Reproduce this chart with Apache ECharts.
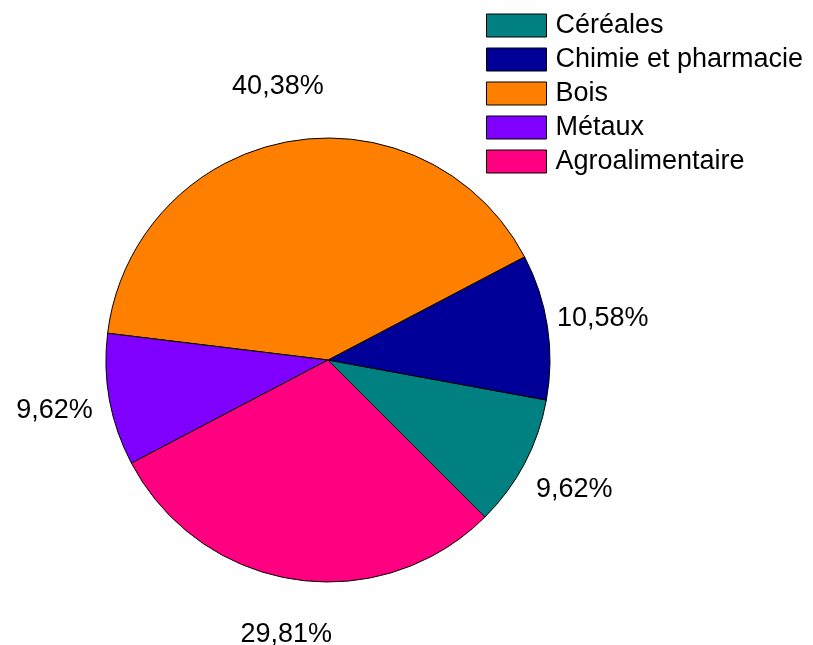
<!DOCTYPE html>
<html>
<head>
<meta charset="utf-8">
<script src="https://cdn.jsdelivr.net/npm/echarts@6/dist/echarts.min.js"></script>
<style>
  html, body { margin: 0; padding: 0; background: #fff; }
  #chart { width: 813px; height: 645px; }
</style>
</head>
<body>
<div id="chart"></div>
<script>
// données
const categories = ['Céréales', 'Chimie et pharmacie', 'Bois', 'Métaux', 'Agroalimentaire'];
const values = [10, 11, 42, 10, 31];
const colors = ['#008080', '#000099', '#FF8000', '#8000FF', '#FF0080'];

const total = values.reduce((a, b) => a + b, 0);

const pieData = categories.map((name, i) => ({
  name,
  value: values[i],
  itemStyle: { color: colors[i] }
}));

const chart = echarts.init(document.getElementById('chart'));

// pourcentage à 2 décimales, virgule française
const fmtPercent = p => (p.value / total * 100).toFixed(2).replace('.', ',') + '%';

chart.setOption({
  animation: false,
  legend: {
    orient: 'vertical',
    left: 486,
    top: 12,
    padding: 0,
    itemWidth: 60,
    itemHeight: 23,
    itemGap: 7,
    icon: 'rect',
    itemStyle: { borderColor: '#000', borderWidth: 1 },
    textStyle: {
      fontFamily: 'Liberation Sans',
      fontSize: 27,
      lineHeight: 23,
      color: '#000',
      padding: [0, 0, 0, 4]
    },
    data: categories
  },
  series: [
    {
      name: 'secteurs',
      type: 'pie',
      center: [328, 360],
      radius: [0, 222],
      startAngle: -45,
      clockwise: false,
      data: pieData,
      itemStyle: { borderColor: '#000', borderWidth: 1 },
      label: { show: false },
      labelLine: { show: false },
      emphasis: { disabled: true }
    },
    {
      // anneau invisible pour placer les étiquettes
      name: 'etiquettes',
      type: 'pie',
      center: [328, 360],
      radius: [262, 288],
      startAngle: -45,
      clockwise: false,
      silent: true,
      data: categories.map((name, i) => ({ name, value: values[i] })),
      itemStyle: { color: 'rgba(0,0,0,0)', borderWidth: 0 },
      label: {
        show: true,
        position: 'inside',
        formatter: fmtPercent,
        fontFamily: 'Liberation Sans',
        fontSize: 27,
        color: '#000'
      },
      labelLine: { show: false },
      emphasis: { disabled: true }
    }
  ]
});
</script>
</body>
</html>
